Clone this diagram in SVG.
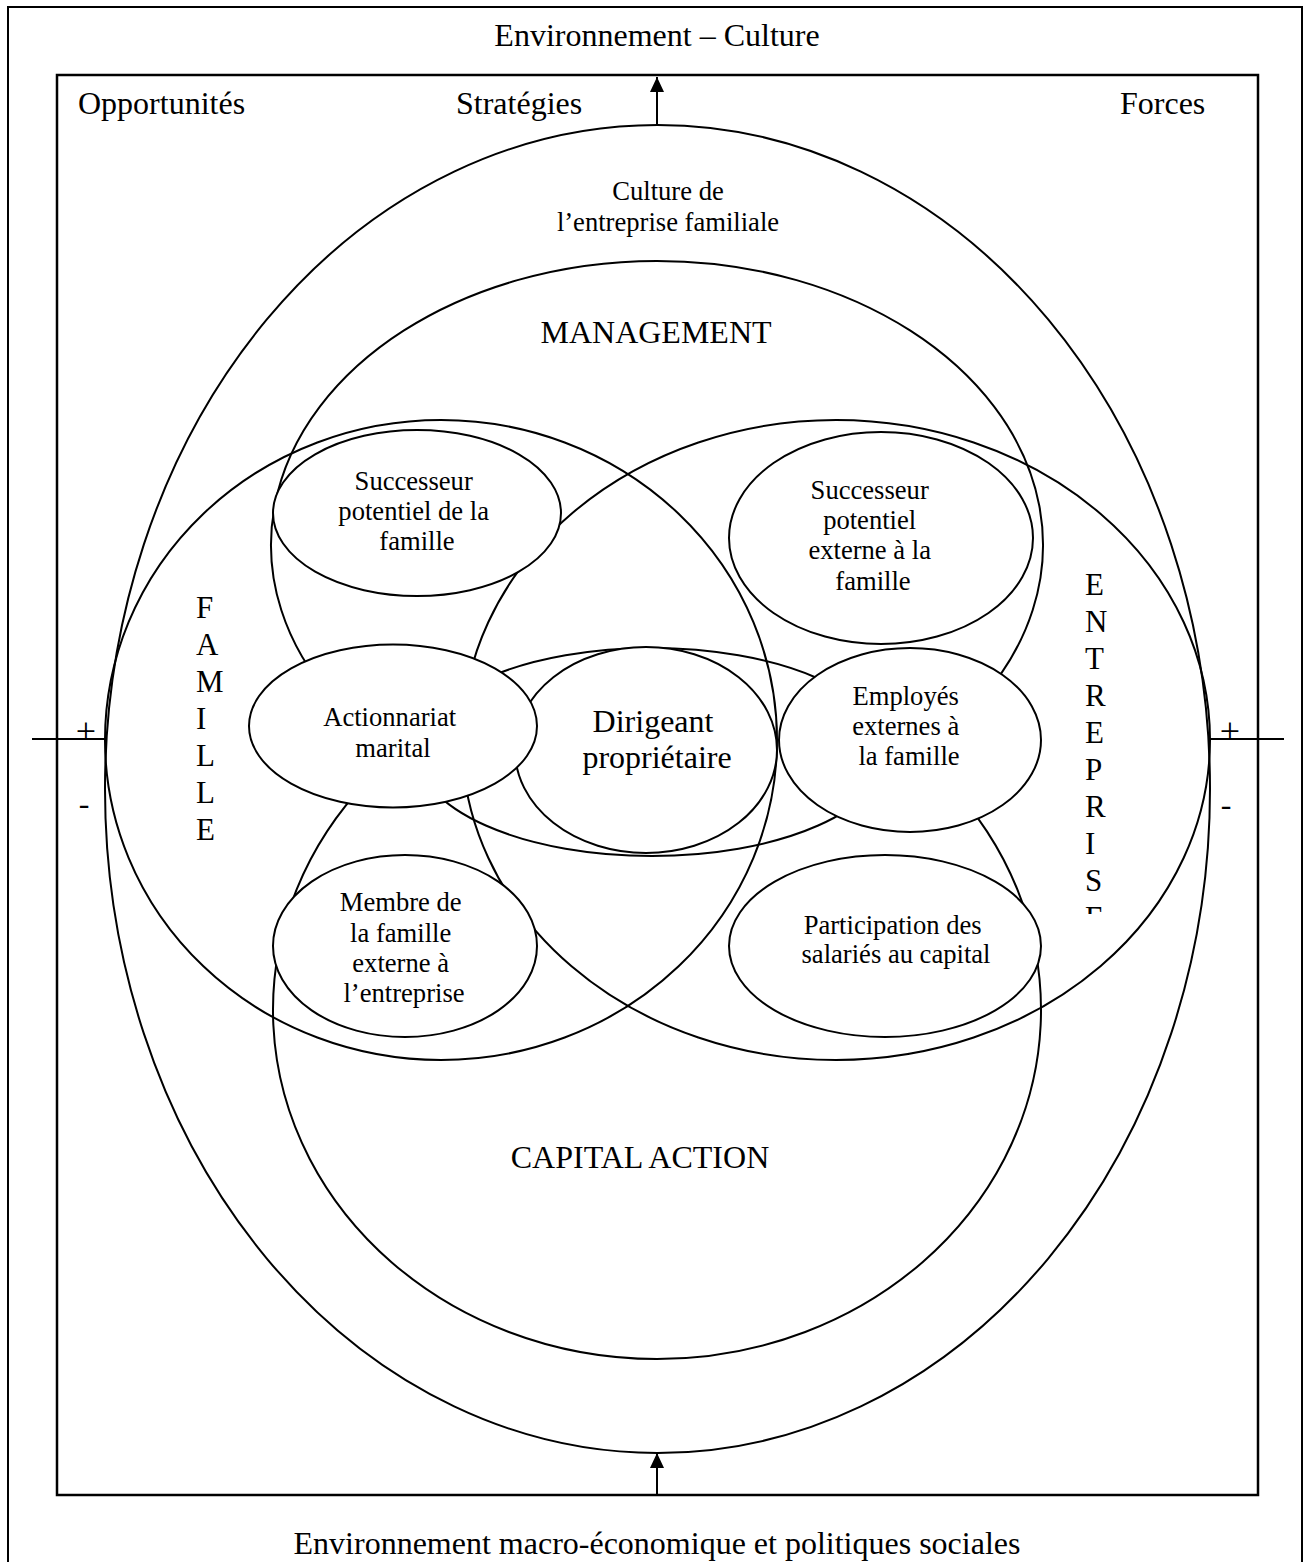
<svg xmlns="http://www.w3.org/2000/svg" width="1311" height="1562" viewBox="0 0 1311 1562">
  <style>
    .ln { fill: none; stroke: #000; stroke-width: 2; }
    .nd { fill: #fff; stroke: #000; stroke-width: 2; }
    .frame { fill: none; stroke: #000; stroke-width: 2.5; }
    text { font-family: "Liberation Serif", "Times New Roman", serif; fill: #000; }
    .big { font-size: 32px; }
    .lab { font-size: 26.6px; }
    .let { font-size: 31px; }
    .sign { font-size: 36px; }
    .c { text-anchor: middle; }
  </style>
  <defs>
    <marker id="head" markerUnits="userSpaceOnUse" markerWidth="15" markerHeight="14" refX="15" refY="7" orient="auto">
      <path d="M0,0 L15,7 L0,14 Z" fill="#000"/>
    </marker>
    <clipPath id="entreprise-clip">
      <rect x="1070" y="560" width="60" height="354"/>
    </clipPath>
  </defs>

  <rect width="1311" height="1562" fill="#fff"/>

  <!-- outer page frame (open at the bottom) and inner box -->
  <g id="frames">
    <path class="ln" d="M8,1570 V7 H1302 V1570"/>
    <rect class="frame" x="57" y="75" width="1201" height="1420"/>
  </g>

  <!-- titles around the frames -->
  <g id="titles">
    <text class="big c" x="657" y="46">Environnement – Culture</text>
    <text class="big" x="78" y="114">Opportunités</text>
    <text class="big" x="456" y="114">Stratégies</text>
    <text class="big" x="1120" y="114">Forces</text>
    <text class="big c" x="657" y="1554">Environnement macro-économique et politiques sociales</text>
  </g>

  <!-- large surrounding shapes -->
  <g id="culture">
    <ellipse class="ln" cx="657.5" cy="789" rx="552.5" ry="664"/>
    <text class="lab c" x="668" y="200">Culture de</text>
    <text class="lab c" x="668" y="231">l’entreprise familiale</text>
  </g>

  <g id="management">
    <path class="ln" d="M333.6,700 A386,284 0 1 1 980.4,700"/>
    <text class="big c" x="656" y="343">MANAGEMENT</text>
  </g>

  <g id="capital-action">
    <path class="ln" d="M368.2,780 A384,349 0 1 0 945.8,780"/>
    <text class="big c" x="640" y="1168">CAPITAL ACTION</text>
  </g>

  <g id="famille">
    <ellipse class="ln" cx="441" cy="740" rx="336" ry="320"/>
    <text class="let">
      <tspan x="196" y="618">F</tspan>
      <tspan x="196" y="655">A</tspan>
      <tspan x="196" y="692">M</tspan>
      <tspan x="196" y="729">I</tspan>
      <tspan x="196" y="766">L</tspan>
      <tspan x="196" y="803">L</tspan>
      <tspan x="196" y="840">E</tspan>
    </text>
  </g>

  <g id="entreprise">
    <ellipse class="ln" cx="836" cy="740" rx="374" ry="320"/>
    <text class="let" clip-path="url(#entreprise-clip)">
      <tspan x="1085" y="595">E</tspan>
      <tspan x="1085" y="632">N</tspan>
      <tspan x="1085" y="669">T</tspan>
      <tspan x="1085" y="706">R</tspan>
      <tspan x="1085" y="743">E</tspan>
      <tspan x="1085" y="780">P</tspan>
      <tspan x="1085" y="817">R</tspan>
      <tspan x="1085" y="854">I</tspan>
      <tspan x="1085" y="891">S</tspan>
      <tspan x="1085" y="928">E</tspan>
    </text>
  </g>

  <!-- central band joining marital shareholding and outside employees -->
  <g id="bande-centrale">
    <ellipse class="ln" cx="652" cy="752" rx="235" ry="104"/>
  </g>

  <!-- inner nodes, white filled so they mask the lines passing beneath -->
  <g id="successeur-famille">
    <ellipse class="nd" cx="417" cy="513" rx="144" ry="83"/>
    <text class="lab c">
      <tspan x="417" y="490">Successeur</tspan>
      <tspan x="417" y="520">potentiel de la</tspan>
      <tspan x="417" y="550">famille</tspan>
    </text>
  </g>

  <g id="successeur-externe">
    <ellipse class="nd" cx="881" cy="538" rx="152" ry="106"/>
    <text class="lab c">
      <tspan x="873" y="499">Successeur</tspan>
      <tspan x="873" y="529">potentiel</tspan>
      <tspan x="873" y="559">externe à la</tspan>
      <tspan x="873" y="590">famille</tspan>
    </text>
  </g>

  <g id="dirigeant">
    <ellipse class="nd" cx="646" cy="750" rx="131" ry="103"/>
    <text class="big c">
      <tspan x="657" y="732">Dirigeant</tspan>
      <tspan x="657" y="768">propriétaire</tspan>
    </text>
  </g>

  <g id="actionnariat-marital">
    <ellipse class="nd" cx="393" cy="726" rx="144" ry="81.5"/>
    <text class="lab c">
      <tspan x="393" y="726">Actionnariat</tspan>
      <tspan x="393" y="757">marital</tspan>
    </text>
  </g>

  <g id="employes-externes">
    <ellipse class="nd" cx="910" cy="740" rx="131" ry="92"/>
    <text class="lab c">
      <tspan x="909" y="705">Employés</tspan>
      <tspan x="909" y="735">externes à</tspan>
      <tspan x="909" y="765">la famille</tspan>
    </text>
  </g>

  <g id="membre-famille">
    <ellipse class="nd" cx="405" cy="946" rx="132" ry="91"/>
    <text class="lab c">
      <tspan x="404" y="911">Membre de</tspan>
      <tspan x="404" y="942">la famille</tspan>
      <tspan x="404" y="972">externe à</tspan>
      <tspan x="404" y="1002">l’entreprise</tspan>
    </text>
  </g>

  <g id="participation-salaries">
    <ellipse class="nd" cx="885" cy="946" rx="156" ry="91"/>
    <text class="lab c">
      <tspan x="896" y="934">Participation des</tspan>
      <tspan x="896" y="963">salariés au capital</tspan>
    </text>
  </g>

  <!-- arrows and the +/- axis -->
  <g id="connectors">
    <line class="ln" x1="657" y1="124" x2="657" y2="77" marker-end="url(#head)"/>
    <line class="ln" x1="657" y1="1495" x2="657" y2="1453" marker-end="url(#head)"/>
    <line class="ln" x1="32" y1="739" x2="106" y2="739"/>
    <line class="ln" x1="1210" y1="739" x2="1284" y2="739"/>
    <text class="sign c" x="86" y="743">+</text>
    <text class="big c" x="84" y="814">-</text>
    <text class="sign c" x="1230" y="743">+</text>
    <text class="big c" x="1226" y="815">-</text>
  </g>
</svg>
